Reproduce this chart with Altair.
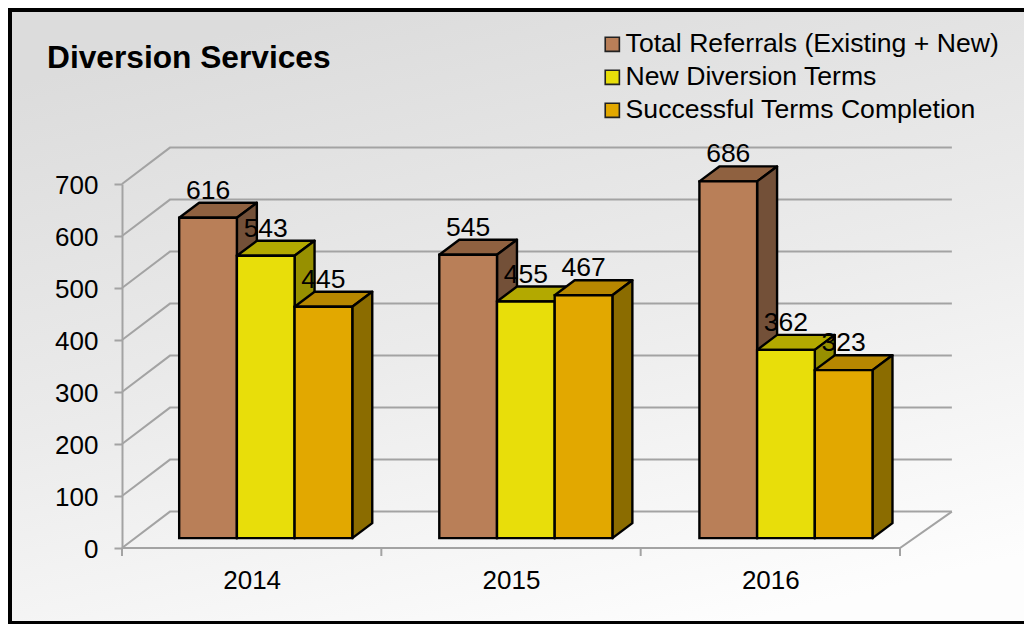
import altair as alt
import pandas as pd

years = ["2014", "2015", "2016"]
series = ["Total Referrals (Existing + New)", "New Diversion Terms", "Successful Terms Completion"]
values = [
    [616, 545, 686],
    [543, 455, 362],
    [445, 467, 323],
]
front_colors = ["#B97F58", "#E8DE0A", "#E2A800"]
top_colors = ["#8F6140", "#B3A900", "#B78700"]
side_colors = ["#735038", "#979000", "#8B6C00"]
y_ticks = [0, 100, 200, 300, 400, 500, 600, 700]
x_ticks = [0, 1, 2, 3]

FONT = "Liberation Sans"
W, H = 778, 364
PAD = dict(left=114, top=176, right=124, bottom=76)
BAR_START, BAR_W, GROUP_STEP = 0.2205, 0.2225, 1.003
BASE = 19.0
DX, DY = 0.077, 28.8
WALL_DX, WALL_DY, WALL_END = 0.185, 70.0, 3.2
GREY = "#A3A3A3"

x_scale = alt.Scale(domain=[0, 3], nice=False, zero=False)
y_scale = alt.Scale(domain=[0, 700], nice=False, zero=False)
x_axis = alt.Axis(values=[0.5, 1.5, 2.5],
                  labelExpr="datum.value == 0.5 ? '2014' : datum.value == 1.5 ? '2015' : '2016'",
                  tickSize=0, domain=False, grid=False, labelFontSize=26, labelFont=FONT,
                  labelColor="black", labelPadding=19, labelAngle=0, title=None, zindex=1)
y_axis = alt.Axis(values=y_ticks, grid=False, domainColor=GREY, domainWidth=2,
                  tickColor=GREY, tickWidth=2, tickSize=8, labelFontSize=26, labelFont=FONT,
                  labelColor="black", labelPadding=16, labelOffset=1.5, title=None, zindex=1)
X = lambda f: alt.X(f, type="quantitative", scale=x_scale, axis=x_axis)
Y = lambda f: alt.Y(f, type="quantitative", scale=y_scale, axis=y_axis)

panel = alt.Chart(pd.DataFrame({"a": [0]})).mark_rect(
    fill=alt.LinearGradient(
        gradient="linear", x1=0.3, y1=0, x2=0.7, y2=1,
        stops=[alt.GradientStop(offset=0, color="#DCDCDC"),
               alt.GradientStop(offset=0.5, color="#EBEBEB"),
               alt.GradientStop(offset=1, color="#FDFDFD")]),
    stroke="black", strokeWidth=4,
).encode(x=alt.value(-112), x2=alt.value(930), y=alt.value(-174), y2=alt.value(439))

grid_rows = []
for v in y_ticks:
    grid_rows += [
        {"g": v, "o": 0, "px": 0, "py": v},
        {"g": v, "o": 1, "px": WALL_DX, "py": v + WALL_DY},
        {"g": v, "o": 2, "px": WALL_END, "py": v + WALL_DY},
    ]
grid_rows += [{"g": -1, "o": 0, "px": 0, "py": 0}, {"g": -1, "o": 1, "px": 3, "py": 0},
              {"g": -1, "o": 2, "px": WALL_END, "py": WALL_DY}]
grid = alt.Chart(pd.DataFrame(grid_rows)).mark_line(color=GREY, strokeWidth=2).encode(
    x=X("px"), y=Y("py"), detail="g:N", order="o:Q")

x_tick_marks = alt.Chart(pd.DataFrame({"tx": x_ticks})).mark_rule(color=GREY, strokeWidth=2).encode(
    x=X("tx"), y=alt.value(H), y2=alt.value(H + 8))

title_text = alt.Chart(pd.DataFrame({"t": ["Diversion Services"]})).mark_text(
    font=FONT, fontSize=31.7, fontWeight="bold", color="black", align="left", baseline="alphabetic"
).encode(x=alt.value(-75), y=alt.value(-116), text="t:N")

layers = [panel, grid, x_tick_marks, title_text]

color = alt.Color("series:N", scale=alt.Scale(domain=series, range=front_colors),
                  legend=alt.Legend(orient="none", legendX=477, legendY=-153, title=None,
                                    symbolType="square", symbolSize=200, symbolStrokeColor="#222222",
                                    symbolStrokeWidth=1.6, symbolOpacity=1,
                                    labelFont=FONT, labelFontSize=26.6, labelColor="black", labelLimit=600,
                                    rowPadding=6, labelOffset=0))

labels = []
for s, name in enumerate(series):
    faces, fronts = [], []
    for i in range(len(years)):
        x0 = i * GROUP_STEP + BAR_START + s * BAR_W
        x1 = x0 + BAR_W
        top = BASE + values[s][i]
        faces += [
            {"f": f"top{i}", "fx": x0, "fy": top, "fy2": top, "c": top_colors[s]},
            {"f": f"top{i}", "fx": x0 + DX, "fy": top + DY, "fy2": top, "c": top_colors[s]},
            {"f": f"top{i}", "fx": x1, "fy": top + DY, "fy2": top, "c": top_colors[s]},
            {"f": f"top{i}", "fx": x1 + DX, "fy": top + DY, "fy2": top + DY, "c": top_colors[s]},
            {"f": f"side{i}", "fx": x1, "fy": top, "fy2": BASE, "c": side_colors[s]},
            {"f": f"side{i}", "fx": x1 + DX, "fy": top + DY, "fy2": BASE + DY, "c": side_colors[s]},
        ]
        fronts.append({"series": name, "bx": x0, "bx2": x1, "by": BASE, "by2": top,
                       "mid": x0 + BAR_W / 2, "value": values[s][i]})
    layers.append(
        alt.Chart(pd.DataFrame(faces)).mark_area(stroke="black", strokeWidth=2.4, strokeJoin="round", opacity=1).encode(
            x=X("fx"), y=Y("fy"), y2="fy2:Q", detail="f:N",
            fill=alt.Fill("c:N", scale=None))
    )
    df_front = pd.DataFrame(fronts)
    layers.append(
        alt.Chart(df_front).mark_rect(stroke="black", strokeWidth=2.4, opacity=1).encode(
            x=X("bx"), x2="bx2:Q", y=Y("by"), y2="by2:Q", color=color)
    )
    labels.append(
        alt.Chart(df_front).mark_text(font=FONT, fontSize=26.5, color="black", baseline="alphabetic", dy=-19).encode(
            x=X("mid"), y=Y("by2"), text="value:Q")
    )

chart = alt.layer(*layers, *labels).properties(
    width=W, height=H,
    padding=PAD,
    autosize=alt.AutoSizeParams(type="none", contains="content"),
).configure_view(stroke=None).configure(background="white")

chart.save("out.html", embed_options={"renderer": "svg", "actions": False})
